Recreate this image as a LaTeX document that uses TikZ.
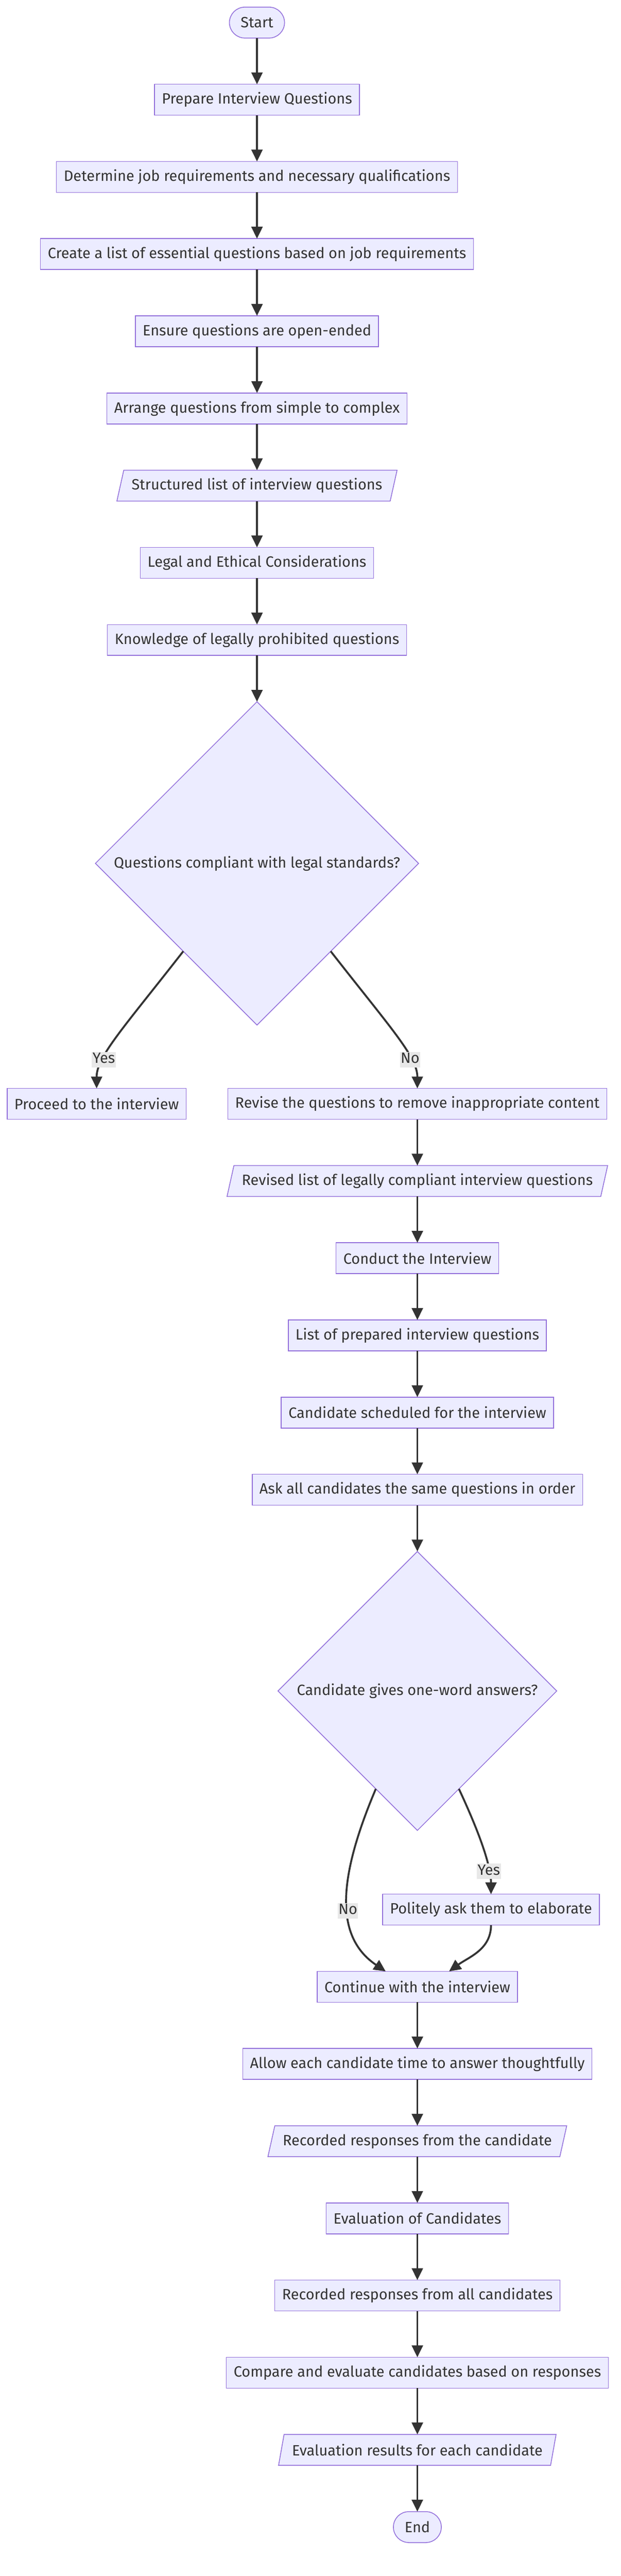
\documentclass[tikz,border=0pt]{standalone}
\usepackage{fontspec}
\setmainfont{Fira Sans}
\usetikzlibrary{positioning,shapes.geometric,arrows.meta}
\definecolor{nodefill}{HTML}{ECECFF}
\definecolor{nodeline}{HTML}{9370DB}
\definecolor{ink}{HTML}{333333}
\definecolor{lblfill}{HTML}{E8E8E8}

\begin{document}
\begin{tikzpicture}[
    node distance=29.2pt,
    font=\fontsize{9.4}{11}\selectfont, text=ink,
    box/.style={draw=nodeline, fill=nodefill, line width=0.5pt, outer sep=0pt, minimum height=19.5pt, inner xsep=4.6pt, inner ysep=0pt},
    term/.style={box, rounded corners=9.75pt, inner xsep=7.1pt},
    io/.style={trapezium, trapezium left angle=65, trapezium right angle=115, trapezium stretches body, draw=nodeline, fill=nodefill, line width=0.5pt, outer sep=0pt, minimum height=19.5pt, inner xsep=5pt, inner ysep=0pt},
    decide/.style={diamond, aspect=1, draw=nodeline, fill=nodefill, line width=0.5pt, outer sep=0pt, inner sep=0pt},
    flow/.style={draw=ink, line width=1.2pt, -{Triangle[length=7.5pt,width=7pt]}},
    lbl/.style={fill=lblfill, inner xsep=0.5pt, inner ysep=0pt, text height=7.2pt, text depth=2.55pt}
]
\useasboundingbox (0,0) rectangle (392pt,-1625.5pt);

\node[term] (start) at (162.25pt,-14.25pt) {Start};
\node[box, below=of start] (prep) {Prepare Interview Questions};
\node[box, below=of prep] (jobreq) {Determine job requirements and necessary qualifications};
\node[box, below=of jobreq] (qlist) {Create a list of essential questions based on job requirements};
\node[box, below=of qlist] (openq) {Ensure questions are open-ended};
\node[box, below=of openq] (arrange) {Arrange questions from simple to complex};
\node[io, below=of arrange] (structlist) {Structured list of interview questions};
\node[box, below=of structlist] (legal) {Legal and Ethical Considerations};
\node[box, below=of legal] (prohib) {Knowledge of legally prohibited questions};
\node[decide, minimum width=204pt, minimum height=204pt, below=of prohib] (comply) {Questions compliant with legal standards?};
\node[box, below=40pt of comply, xshift=-101.25pt] (proceed) {Proceed to the interview};
\node[box, below=40pt of comply, xshift=101.25pt] (revise) {Revise the questions to remove inappropriate content};
\node[io, below=of revise] (revlist) {Revised list of legally compliant interview questions};
\node[box, below=of revlist] (conduct) {Conduct the Interview};
\node[box, below=of conduct] (preplist) {List of prepared interview questions};
\node[box, below=of preplist] (sched) {Candidate scheduled for the interview};
\node[box, below=of sched] (askall) {Ask all candidates the same questions in order};
\node[decide, minimum width=176pt, minimum height=176pt, below=of askall] (oneword) {Candidate gives one-word answers?};
\node[box, below=40.25pt of oneword, xshift=46.5pt] (elaborate) {Politely ask them to elaborate};
\node[box, below=of elaborate, xshift=-46.5pt] (goon) {Continue with the interview};
\node[box, below=of goon] (allow) {Allow each candidate time to answer thoughtfully};
\node[io, below=of allow] (recone) {Recorded responses from the candidate};
\node[box, below=of recone] (evalc) {Evaluation of Candidates};
\node[box, below=of evalc] (recall) {Recorded responses from all candidates};
\node[box, below=of recall] (compare) {Compare and evaluate candidates based on responses};
\node[io, below=of compare] (results) {Evaluation results for each candidate};
\node[term, below=of results] (stop) {End};

\draw[flow] (start.south) -- (prep.north);
\draw[flow] (prep.south) -- (jobreq.north);
\draw[flow] (jobreq.south) -- (qlist.north);
\draw[flow] (qlist.south) -- (openq.north);
\draw[flow] (openq.south) -- (arrange.north);
\draw[flow] (arrange.south) -- (structlist.north);
\draw[flow] (structlist.south) -- (legal.north);
\draw[flow] (legal.south) -- (prohib.north);
\draw[flow] (prohib.south) -- (comply.north);
\draw[flow] (comply.-130) to[out=-128, in=90, out looseness=1.56, in looseness=0.5] node[lbl, pos=0.7] (yes1) {Yes} (proceed.north);
\draw[flow] (comply.-50) to[out=-52, in=90, out looseness=1.56, in looseness=0.5] node[lbl, pos=0.7] (no1) {No} (revise.north);
\draw[flow] (revise.south) -- (revlist.north);
\draw[flow] (revlist.south) -- (conduct.north);
\draw[flow] (conduct.south) -- (preplist.north);
\draw[flow] (preplist.south) -- (sched.north);
\draw[flow] (sched.south) -- (askall.north);
\draw[flow] (askall.south) -- (oneword.north);
\draw[flow] (oneword.-67) to[out=-65, in=90, out looseness=1.4, in looseness=0.56] node[lbl, pos=0.7] (yes2) {Yes} (elaborate.north);
\draw[flow] (oneword.-113) to[out=-113, in=146, out looseness=1.4, in looseness=0.85] node[lbl, pos=0.55] (no2) {No} ([xshift=-20pt]goon.north);
\draw[flow] (elaborate.south) to[out=-90, in=36] ([xshift=20pt]goon.north);
\draw[flow] (goon.south) -- (allow.north);
\draw[flow] (allow.south) -- (recone.north);
\draw[flow] (recone.south) -- (evalc.north);
\draw[flow] (evalc.south) -- (recall.north);
\draw[flow] (recall.south) -- (compare.north);
\draw[flow] (compare.south) -- (results.north);
\draw[flow] (results.south) -- (stop.north);
\end{tikzpicture}
\end{document}
